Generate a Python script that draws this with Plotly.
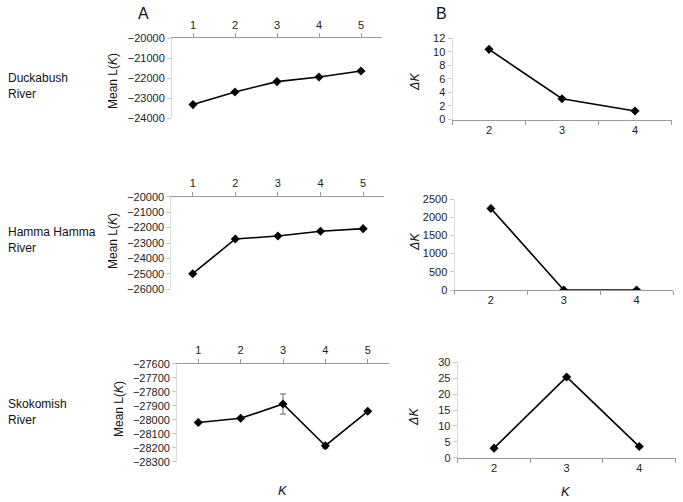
import plotly.graph_objects as go

W, H = 683, 502

# ---- data ----
k_a = [1, 2, 3, 4, 5]
k_b = [2, 3, 4]
duck_L = [-23330, -22700, -22180, -21950, -21650]
hamma_L = [-24990, -22740, -22550, -22240, -22070]
skok_L = [-28020, -27990, -27888, -28186, -27940]
skok_err = [0, 0, 72, 18, 0]
duck_dK = [10.37, 3.07, 1.26]
hamma_dK = [2240, 1, 1]
skok_dK = [3.0, 25.4, 3.5]
rivers = ["Duckabush<br>River", "Hamma Hamma<br>River", "Skokomish<br>River"]

fig = go.Figure()

def px_x(x):
    return x / W

def px_y(y):
    return 1 - y / H

line = dict(color="black", width=1.6)
marker = dict(symbol="diamond", size=7, color="black")

a_specs = [
    (duck_L, None, (172, 382), (38, 118), [-24000, -20000], 1000),
    (hamma_L, None, (171.4, 384.4), (196.7, 289.3), [-26000, -20000], 1000),
    (skok_L, skok_err, (177.1, 388.9), (363.7, 461.7), [-28300, -27600], 100),
]
b_specs = [
    (duck_dK, (452.5, 671.5), (38.3, 119.5), [0, 12], 2),
    (hamma_dK, (454.5, 673), (199, 290), [0, 2500], 500),
    (skok_dK, (457.7, 675.6), (362.3, 457.7), [0, 30], 5),
]

tickfont = dict(family="Liberation Sans, Arial", size=11, color="#222")
layout = {}
idx = 1
for vals, err, (x0, x1), (ytop, ybot), yr, dt in a_specs:
    xn = "xaxis" if idx == 1 else f"xaxis{idx}"
    yn = "yaxis" if idx == 1 else f"yaxis{idx}"
    xr = "x" if idx == 1 else f"x{idx}"
    yrn = "y" if idx == 1 else f"y{idx}"
    tr = dict(x=k_a, y=vals, mode="lines+markers", line=line, marker=marker,
              xaxis=xr, yaxis=yrn, showlegend=False, hoverinfo="skip")
    if err is not None:
        tr["error_y"] = dict(type="data", array=err, visible=True,
                             color="#666", thickness=1, width=3)
    fig.add_trace(go.Scatter(**tr))
    layout[xn] = dict(domain=[px_x(x0), px_x(x1)], range=[0.5, 5.5], anchor=yrn,
                      side="top", tickvals=k_a, showline=True, linecolor="#9a9a9a",
                      linewidth=1, ticks="outside", ticklen=4, tickcolor="#9a9a9a",
                      showgrid=False, zeroline=False, tickfont=tickfont,
                      automargin=False)
    layout[yn] = dict(domain=[px_y(ybot), px_y(ytop)], range=yr, anchor=xr,
                      dtick=dt, tick0=yr[0], showline=True, linecolor="#dcdcdc",
                      ticks="outside", ticklen=4, tickcolor="#c8c8c8",
                      showgrid=False, zeroline=False, tickfont=tickfont,
                      tickformat="d", automargin=False)
    idx += 1

for vals, (x0, x1), (ytop, ybot), yr, dt in b_specs:
    xn = f"xaxis{idx}"
    yn = f"yaxis{idx}"
    xr = f"x{idx}"
    yrn = f"y{idx}"
    fig.add_trace(go.Scatter(x=k_b, y=vals, mode="lines+markers", line=line,
                             marker=marker, xaxis=xr, yaxis=yrn,
                             showlegend=False, hoverinfo="skip"))
    layout[xn] = dict(domain=[px_x(x0), px_x(x1)], range=[1.5, 4.5], anchor=yrn,
                      tickvals=k_b, showline=True, linecolor="#9a9a9a",
                      ticks="", showgrid=False, zeroline=False, tickfont=tickfont,
                      automargin=False,
                      minor=dict(tickvals=[1.5, 2.5, 3.5, 4.5], ticks="outside",
                                 ticklen=4, tickcolor="#9a9a9a"))
    layout[yn] = dict(domain=[px_y(ybot), px_y(ytop)], range=yr, anchor=xr,
                      dtick=dt, tick0=0, showline=True, linecolor="#dcdcdc",
                      ticks="outside", ticklen=4, tickcolor="#c8c8c8",
                      showgrid=False, zeroline=False, tickfont=tickfont,
                      automargin=False)
    idx += 1

font = "Liberation Sans, Arial"
ann = []
def add_text(text, x, y, size, angle=0, xanchor="center"):
    ann.append(dict(text=text, x=px_x(x), y=px_y(y), xref="paper", yref="paper",
                    showarrow=False, textangle=angle, xanchor=xanchor,
                    yanchor="middle", font=dict(family=font, size=size, color="#111")))

add_text("A", 143, 14, 16)
add_text("B", 441, 14, 16)
for r, yc in zip(rivers, [86, 240, 412]):
    ann.append(dict(text=r, x=px_x(6), y=px_y(yc), xref="paper", yref="paper",
                    showarrow=False, xanchor="left", yanchor="middle", align="left",
                    font=dict(family=font, size=12, color="#111")))
for xc, yc in [(113, 81), (113, 241), (119, 409)]:
    add_text("Mean L(<i>K</i>)", xc, yc, 12, angle=-90)
for xc, yc in [(415, 82), (415, 242), (414, 417)]:
    add_text("<i>ΔK</i>", xc, yc, 12.5, angle=-90)
add_text("<i>K</i>", 283, 490, 13)
add_text("<i>K</i>", 566, 491, 13)

fig.update_layout(width=W, height=H, margin=dict(l=0, r=0, t=0, b=0, pad=0),
                  paper_bgcolor="white", plot_bgcolor="white",
                  annotations=ann, **layout)
fig.write_html("out.html", config={"displayModeBar": False},
               post_script="document.body.style.margin='0';document.body.style.overflow='hidden';")
